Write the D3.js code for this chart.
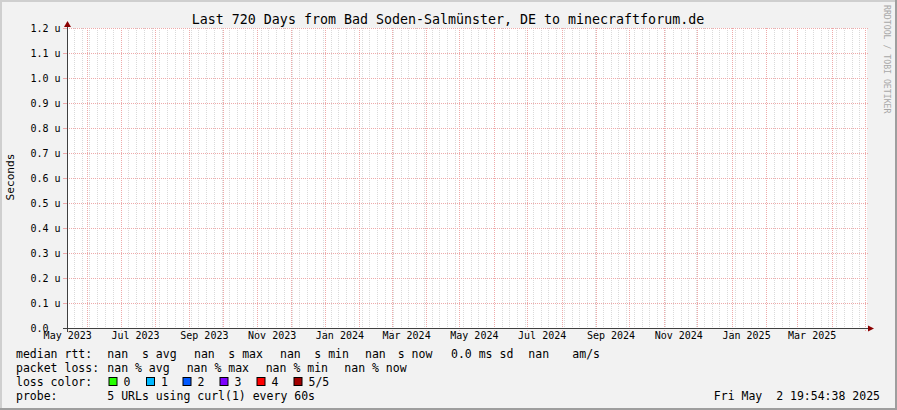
<!DOCTYPE html>
<html><head><meta charset="utf-8">
<script src="https://cdn.jsdelivr.net/npm/d3@7"></script>
<style>
html,body{margin:0;padding:0;background:#f2f2f2;}
text{font-family:"DejaVu Sans Mono",monospace;white-space:pre;}
</style></head>
<body><svg id="c" width="897" height="410"></svg>
<script>
// ---- data ----
const title = "Last 720 Days from Bad Soden-Salmünster, DE to minecraftforum.de";
const yTickValues = [0,0.1,0.2,0.3,0.4,0.5,0.6,0.7,0.8,0.9,1.0,1.1,1.2];
const yTickLabels = ["0.0","0.1 u","0.2 u","0.3 u","0.4 u","0.5 u","0.6 u","0.7 u","0.8 u","0.9 u","1.0 u","1.1 u","1.2 u"];
const xLabelDates = ["2023-05-14","2023-07-14","2023-09-14","2023-11-14","2024-01-14","2024-03-14","2024-05-14","2024-07-14","2024-09-14","2024-11-14","2025-01-14","2025-03-14"];
const xLabels = ["May 2023","Jul 2023","Sep 2023","Nov 2023","Jan 2024","Mar 2024","May 2024","Jul 2024","Sep 2024","Nov 2024","Jan 2025","Mar 2025"];
const timeStart = "2023-05-13T19:54:38Z";
const timeEnd = "2025-05-02T19:54:38Z";
const lossLabels = ["0","1","2","3","4","5/5"];
const lossColors = ["#26ff00","#00b8ff","#0059ff","#7e00ff","#ff0000","#a10000"];
const medianRow = ["median rtt:","nan","s avg","nan","s max","nan","s min","nan","s now","0.0 ms sd","nan","am/s"];
const lossRow = ["packet loss:","nan % avg","nan % max","nan % min","nan % now"];
const probeRow = ["probe:","5 URLs using curl(1) every 60s"];
const dateStamp = "Fri May  2 19:54:38 2025";

// ---- layout ----
const W=897,H=410, L=67, R=867, T=28, B=328;
const svg = d3.select("#c");
svg.append("rect").attr("width",W).attr("height",H).attr("fill","#f2f2f2");
// borders
svg.append("rect").attr("x",0).attr("y",0).attr("width",W).attr("height",2).attr("fill","#cfcfcf");
svg.append("rect").attr("x",0).attr("y",0).attr("width",2).attr("height",H).attr("fill","#cfcfcf");
svg.append("rect").attr("x",0).attr("y",H-2).attr("width",W).attr("height",2).attr("fill","#9e9e9e");
svg.append("rect").attr("x",W-2).attr("y",0).attr("width",2).attr("height",H).attr("fill","#9e9e9e");

const x = d3.scaleUtc().domain([new Date(timeStart), new Date(timeEnd)]).range([L,R]);
const y = d3.scaleLinear().domain([0,1.2]).range([B,T]);

svg.append("rect").attr("x",L).attr("y",T).attr("width",R-L).attr("height",B-T).attr("fill","#ffffff");

const gridMinor = "#dadada", gridMajor = "#eeaaaa";
// minor weekly grid
const weeks = d3.utcSaturday.range(x.domain()[0], x.domain()[1]);
const months = d3.utcMonth.range(x.domain()[0], x.domain()[1]);
const monthSet = new Set(months.map(d=>+d3.utcDay.floor(d)));
svg.append("g").selectAll("line").data(weeks.filter(d=>!monthSet.has(+d))).join("line")
  .attr("x1",d=>Math.round(x(d))+0.5).attr("x2",d=>Math.round(x(d))+0.5)
  .attr("y1",T).attr("y2",B).attr("stroke",gridMinor).attr("stroke-dasharray","1,1");
// horizontal major grid
svg.append("g").selectAll("line").data(yTickValues.slice(1)).join("line")
  .attr("x1",L).attr("x2",R+1).attr("y1",d=>Math.round(y(d))+0.5).attr("y2",d=>Math.round(y(d))+0.5)
  .attr("stroke",gridMajor).attr("stroke-dasharray","1,1");
svg.append("g").selectAll("line").data(yTickValues).join("line")
  .attr("x1",63).attr("x2",L).attr("y1",d=>Math.round(y(d))+0.5).attr("y2",d=>Math.round(y(d))+0.5)
  .attr("stroke",gridMajor);
// monthly major grid
svg.append("g").selectAll("line").data(months).join("line")
  .attr("x1",d=>Math.round(x(d))+0.5).attr("x2",d=>Math.round(x(d))+0.5)
  .attr("y1",T).attr("y2",B+3).attr("stroke",gridMajor).attr("stroke-dasharray","1,1");

// axes
const axisCol = "#404040", arrowCol = "#8b0000";
svg.append("line").attr("x1",63).attr("x2",870).attr("y1",B+0.5).attr("y2",B+0.5).attr("stroke",axisCol);
svg.append("line").attr("x1",L+0.5).attr("x2",L+0.5).attr("y1",B+4).attr("y2",24).attr("stroke",axisCol);
svg.append("path").attr("d",`M${R+1},${B-2.5}L${R+7},${B+0.5}L${R+1},${B+3.5}Z`).attr("fill",arrowCol);
svg.append("path").attr("d",`M${L-3},${T-1}L${L+0.5},${T-7}L${L+4},${T-1}Z`).attr("fill",arrowCol);

// x axis labels
const xa = svg.append("g").attr("transform",`translate(0,${B})`)
  .call(d3.axisBottom(x).tickValues(xLabelDates.map(d=>new Date(d+"T00:00:00Z"))).tickSize(0).tickPadding(4)
    .tickFormat((d,i)=>xLabels[i]));
xa.select(".domain").remove();
xa.selectAll("text").attr("font-size","10px").attr("fill","#000").attr("dy","0.71em")
  .style("font-family","DejaVu Sans Mono");

// y axis labels
const ya = svg.append("g").attr("transform",`translate(${L},0)`)
  .call(d3.axisLeft(y).tickValues(yTickValues).tickSize(0).tickFormat((d,i)=>yTickLabels[i]));
ya.select(".domain").remove();
ya.selectAll("text").attr("x",30.5-L).attr("text-anchor","start").attr("font-size","10px").attr("fill","#000")
  .style("font-family","DejaVu Sans Mono");

// title
svg.append("text").attr("x",448).attr("y",24).attr("text-anchor","middle").attr("font-size","13.3px").attr("fill","#000").text(title);
// y title
svg.append("text").attr("transform","translate(14,177) rotate(-90)").attr("text-anchor","middle")
  .attr("font-size","11.2px").attr("fill","#000").text("Seconds");
// watermark
svg.append("text").attr("transform","translate(884,5) rotate(90)").attr("text-anchor","start")
  .attr("font-size","8.2px").attr("fill","#a8a8a8").text("RRDTOOL / TOBI OETIKER");

// legend
const fs = "11.5px";
const r1x = [16,107.3,142,194,228.3,280,314.3,365,397.7,451,528.3,572.3];
medianRow.forEach((t,i)=>svg.append("text").attr("x",r1x[i]).attr("y",357.5).attr("font-size",fs).attr("fill","#000").text(t));
const r2x = [16,107.3,186.7,265.7,344.3];
lossRow.forEach((t,i)=>svg.append("text").attr("x",r2x[i]).attr("y",371.5).attr("font-size",fs).attr("fill","#000").text(t));
svg.append("text").attr("x",16).attr("y",385.5).attr("font-size",fs).attr("fill","#000").text("loss color:");
const boxX = [108.5,146,182.5,219.5,256.5,293.5];
lossLabels.forEach((t,i)=>{
  svg.append("rect").attr("x",boxX[i]+0.5).attr("y",377.5).attr("width",8).attr("height",8)
    .attr("fill",lossColors[i]).attr("stroke","#000").attr("stroke-width",1);
  svg.append("text").attr("x",boxX[i]+15).attr("y",385.5).attr("font-size",fs).attr("fill","#000").text(t);
});
svg.append("text").attr("x",16).attr("y",399.5).attr("font-size",fs).attr("fill","#000").text(probeRow[0]);
svg.append("text").attr("x",107.3).attr("y",399.5).attr("font-size",fs).attr("fill","#000").text(probeRow[1]);
svg.append("text").attr("x",880).attr("y",399.5).attr("text-anchor","end").attr("font-size",fs).attr("fill","#000").text(dateStamp);
</script></body></html>
